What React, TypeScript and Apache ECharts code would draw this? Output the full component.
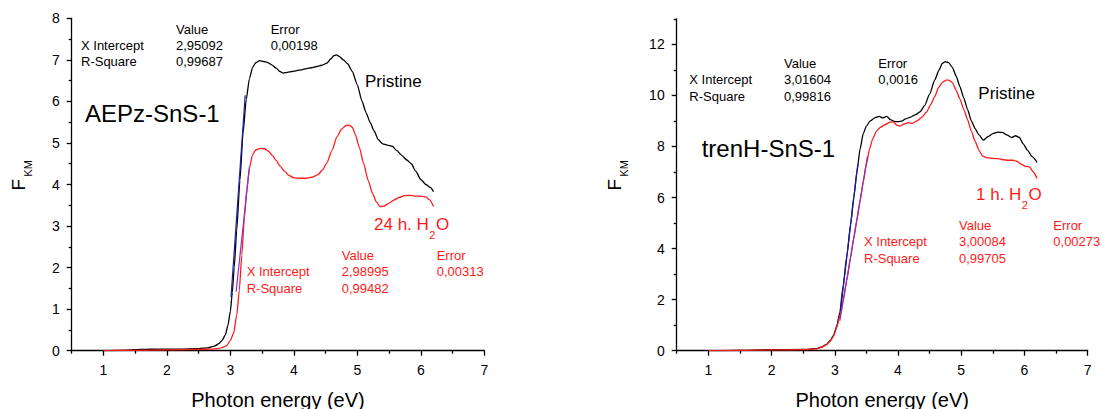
import React, { useEffect, useRef } from "react";
import * as echarts from "echarts";

const FONT = "'Liberation Sans', Arial, Helvetica, sans-serif";
const RED = "#ff1a1a";
const BLUE = "#1c1ca8";
const PURPLE = "#8a2fc0";

// ---------- Left panel: AEPz-SnS-1 ----------
const aepzPristineE = [1.0, 1.3, 1.6, 1.9, 2.2, 2.5, 2.65, 2.75, 2.82, 2.87, 2.92, 2.96, 3.0, 3.03, 3.06, 3.1, 3.15, 3.2, 3.25, 3.3, 3.35, 3.4, 3.46, 3.52, 3.58, 3.65, 3.72, 3.78, 3.83, 3.9, 3.97, 4.05, 4.12, 4.2, 4.28, 4.36, 4.44, 4.52, 4.58, 4.63, 4.67, 4.72, 4.78, 4.85, 4.92, 5.0, 5.07, 5.14, 5.2, 5.26, 5.33, 5.4, 5.47, 5.55, 5.62, 5.7, 5.78, 5.85, 5.92, 6.0, 6.08, 6.15, 6.2];
const aepzPristineF = [0.0, 0.01, 0.03, 0.04, 0.04, 0.05, 0.07, 0.11, 0.17, 0.25, 0.38, 0.6, 0.95, 1.4, 2.0, 2.9, 4.1, 5.25, 6.05, 6.55, 6.82, 6.93, 6.98, 6.96, 6.94, 6.88, 6.8, 6.72, 6.68, 6.7, 6.72, 6.74, 6.76, 6.79, 6.81, 6.84, 6.87, 6.92, 7.02, 7.1, 7.12, 7.08, 7.0, 6.9, 6.72, 6.4, 6.02, 5.72, 5.5, 5.3, 5.08, 4.98, 4.95, 4.92, 4.82, 4.7, 4.59, 4.5, 4.32, 4.12, 4.0, 3.93, 3.83];
const aepzWaterE = [1.0, 1.5, 2.0, 2.5, 2.7, 2.8, 2.88, 2.94, 3.0, 3.05, 3.1, 3.14, 3.18, 3.22, 3.26, 3.3, 3.35, 3.4, 3.47, 3.54, 3.6, 3.66, 3.72, 3.78, 3.85, 3.92, 4.0, 4.1, 4.2, 4.3, 4.38, 4.45, 4.52, 4.6, 4.68, 4.75, 4.82, 4.87, 4.92, 4.97, 5.03, 5.1, 5.17, 5.24, 5.3, 5.36, 5.42, 5.5, 5.58, 5.66, 5.74, 5.82, 5.9, 6.0, 6.08, 6.14, 6.2];
const aepzWaterF = [0.0, 0.01, 0.02, 0.03, 0.04, 0.05, 0.08, 0.12, 0.25, 0.42, 0.85, 1.45, 2.3, 3.2, 3.9, 4.4, 4.72, 4.83, 4.87, 4.86, 4.8, 4.7, 4.58, 4.45, 4.33, 4.22, 4.16, 4.15, 4.15, 4.18, 4.24, 4.35, 4.52, 4.82, 5.15, 5.33, 5.42, 5.43, 5.38, 5.2, 4.9, 4.5, 4.1, 3.78, 3.58, 3.47, 3.48, 3.55, 3.63, 3.69, 3.73, 3.74, 3.72, 3.72, 3.7, 3.63, 3.47];
const aepzFitPristineE = [3.01, 3.233];
const aepzFitPristineF = [1.29, 6.15];
const aepzFitWaterE = [3.09, 3.301];
const aepzFitWaterF = [1.42, 4.43];

// ---------- Right panel: trenH-SnS-1 ----------
const trenPristineE = [1.0, 1.5, 2.0, 2.5, 2.7, 2.8, 2.87, 2.93, 2.98, 3.03, 3.08, 3.13, 3.19, 3.25, 3.3, 3.35, 3.4, 3.45, 3.5, 3.56, 3.63, 3.7, 3.76, 3.82, 3.88, 3.94, 4.0, 4.06, 4.12, 4.2, 4.28, 4.35, 4.42, 4.5, 4.58, 4.65, 4.7, 4.75, 4.8, 4.86, 4.92, 4.98, 5.04, 5.1, 5.16, 5.22, 5.28, 5.35, 5.42, 5.5, 5.58, 5.65, 5.72, 5.8, 5.86, 5.92, 5.98, 6.05, 6.12, 6.2];
const trenPristineF = [0.0, 0.01, 0.04, 0.05, 0.08, 0.15, 0.25, 0.4, 0.6, 0.95, 1.5, 2.5, 3.7, 4.95, 6.0, 7.0, 7.9, 8.5, 8.8, 9.0, 9.12, 9.18, 9.12, 9.18, 9.05, 8.98, 8.97, 8.99, 9.08, 9.15, 9.25, 9.36, 9.6, 10.05, 10.6, 11.0, 11.25, 11.32, 11.28, 11.1, 10.75, 10.34, 9.9, 9.45, 9.0, 8.7, 8.45, 8.25, 8.38, 8.5, 8.56, 8.55, 8.45, 8.35, 8.42, 8.35, 8.1, 7.85, 7.6, 7.38];
const trenWaterE = [1.0, 1.5, 2.0, 2.5, 2.7, 2.8, 2.87, 2.93, 2.98, 3.03, 3.08, 3.13, 3.19, 3.25, 3.3, 3.35, 3.4, 3.45, 3.5, 3.55, 3.6, 3.66, 3.72, 3.8, 3.87, 3.93, 3.98, 4.03, 4.1, 4.16, 4.22, 4.3, 4.38, 4.45, 4.52, 4.58, 4.64, 4.7, 4.76, 4.8, 4.86, 4.92, 4.98, 5.04, 5.1, 5.16, 5.22, 5.28, 5.34, 5.42, 5.5, 5.58, 5.66, 5.74, 5.82, 5.88, 5.95, 6.02, 6.08, 6.14, 6.2];
const trenWaterF = [0.0, 0.01, 0.03, 0.04, 0.07, 0.14, 0.24, 0.38, 0.57, 0.9, 1.35, 1.95, 2.75, 3.65, 4.4, 5.1, 5.85, 6.6, 7.3, 7.9, 8.3, 8.6, 8.75, 8.86, 8.95, 8.95, 8.83, 8.8, 8.88, 8.93, 8.9, 9.0, 9.15, 9.35, 9.65, 9.95, 10.3, 10.5, 10.6, 10.6, 10.5, 10.2, 9.85, 9.45, 9.05, 8.6, 8.2, 7.85, 7.62, 7.55, 7.53, 7.52, 7.48, 7.46, 7.46, 7.42, 7.3, 7.22, 7.2, 7.0, 6.75];
const trenFitPristineE = [3.09, 3.364];
const trenFitPristineF = [1.55, 7.31];
const trenFitWaterE = [3.08, 3.516];
const trenFitWaterF = [1.17, 7.6];

// ---------- Axes ticks ----------
const xTicks = [1, 2, 3, 4, 5, 6, 7];
const xMinorTicks = [0.5, 1.5, 2.5, 3.5, 4.5, 5.5, 6.5];
const leftYTicks = [0, 1, 2, 3, 4, 5, 6, 7, 8];
const leftYMinorTicks = [0.5, 1.5, 2.5, 3.5, 4.5, 5.5, 6.5, 7.5];
const rightYTicks = [0, 2, 4, 6, 8, 10, 12];
const rightYMinorTicks = [1, 3, 5, 7, 9, 11, 13];

// ---------- Annotation texts ----------
const tableHeader = ["Value", "Error"];
const tableRows = ["X Intercept", "R-Square"];
const aepzPristineFit = ["2,95092", "0,99687", "0,00198"];
const aepzWaterFit = ["2,98995", "0,99482", "0,00313"];
const trenPristineFit = ["3,01604", "0,99816", "0,0016"];
const trenWaterFit = ["3,00084", "0,99705", "0,00273"];

const zip = (xs: number[], ys: number[]) => xs.map((x, i) => [x, ys[i]]);

function textWidth(text: string, size: number): number {
  const ctx = document.createElement("canvas").getContext("2d");
  if (!ctx) return text.length * size * 0.55;
  ctx.font = `${size}px 'Liberation Sans', Arial, sans-serif`;
  return ctx.measureText(text).width;
}

function T(x: number, y: number, text: string, size: number, color = "#000", rotation = 0, align = "left") {
  return {
    type: "text",
    x,
    y,
    rotation,
    silent: true,
    style: { text, fill: color, fontSize: size, fontFamily: FONT, align, verticalAlign: "middle" },
  };
}

function fitTable(x0: number, x1: number, x2: number, y0: number, dy: number, vals: string[], color: string) {
  return [
    T(x1, y0, tableHeader[0], 13, color),
    T(x2, y0, tableHeader[1], 13, color),
    T(x0, y0 + dy, tableRows[0], 13, color),
    T(x0, y0 + 2 * dy, tableRows[1], 13, color),
    T(x1, y0 + dy, vals[0], 13, color),
    T(x1, y0 + 2 * dy, vals[1], 13, color),
    T(x2, y0 + dy, vals[2], 13, color),
  ];
}

function waterLabel(x: number, y: number, pre: string, color: string) {
  const w1 = textWidth(pre, 17);
  const w2 = textWidth("2", 11);
  return [
    T(x, y, pre, 17, color),
    T(x + w1 + 0.5, y + 10.5, "2", 11, color),
    T(x + w1 + w2 + 1, y, "O", 17, color),
  ];
}

function fkm(xF: number, yF: number) {
  return [T(xF, yF, "F", 19, "#000", Math.PI / 2, "center"), T(xF + 9.5, yF - 16.3, "KM", 11, "#000", Math.PI / 2, "center")];
}

const axisLineStyle = { color: "#000", width: 1.3 };

function makeXAxes(gridIndex: number) {
  return [
    {
      type: "value",
      gridIndex,
      min: 0.5,
      max: 7,
      position: "bottom",
      name: "Photon energy (eV)",
      nameLocation: "middle",
      nameGap: 39,
      nameTextStyle: { fontSize: 20, fontFamily: FONT, color: "#000" },
      axisLine: { show: true, onZero: false, lineStyle: axisLineStyle },
      axisTick: { show: true, length: 5, customValues: xTicks, lineStyle: axisLineStyle },
      axisLabel: { show: true, customValues: xTicks, fontSize: 14, fontFamily: FONT, color: "#000", margin: 12 },
      splitLine: { show: false },
    },
    {
      type: "value",
      gridIndex,
      min: 0.5,
      max: 7,
      position: "bottom",
      axisLine: { show: false, onZero: false },
      axisTick: { show: true, length: 3, customValues: xMinorTicks, lineStyle: axisLineStyle },
      axisLabel: { show: false },
      splitLine: { show: false },
    },
  ];
}

function makeYAxes(gridIndex: number, max: number, ticks: number[], minor: number[]) {
  return [
    {
      type: "value",
      gridIndex,
      min: 0,
      max,
      position: "left",
      axisLine: { show: true, onZero: false, lineStyle: axisLineStyle },
      axisTick: { show: true, length: 5, customValues: ticks, lineStyle: axisLineStyle },
      axisLabel: { show: true, customValues: ticks, fontSize: 14, fontFamily: FONT, color: "#000", margin: 12 },
      splitLine: { show: false },
    },
    {
      type: "value",
      gridIndex,
      min: 0,
      max,
      position: "left",
      axisLine: { show: false, onZero: false },
      axisTick: { show: true, length: 3, customValues: minor, lineStyle: axisLineStyle },
      axisLabel: { show: false },
      splitLine: { show: false },
    },
  ];
}

function line(xIdx: number, yIdx: number, xs: number[], ys: number[], color: string, width = 1.3, smooth: number | boolean = 0.2) {
  return {
    type: "line",
    xAxisIndex: xIdx,
    yAxisIndex: yIdx,
    data: zip(xs, ys),
    symbol: "none",
    showSymbol: false,
    smooth,
    smoothMonotone: "x",
    lineStyle: { color, width },
    itemStyle: { color },
    silent: true,
  };
}

export default function App() {
  const ref = useRef<HTMLDivElement>(null);

  useEffect(() => {
    if (!ref.current) return;
    const chart = echarts.init(ref.current, null, { renderer: "svg" });

    const graphics = [
      // left panel texts
      ...fitTable(81, 176, 270.7, 29, 16.3, aepzPristineFit, "#000"),
      T(85, 113, "AEPz-SnS-1", 24),
      T(365, 81.7, "Pristine", 17),
      ...waterLabel(374, 224.7, "24 h. H", RED),
      ...fitTable(246.7, 341.7, 436.7, 255.7, 16.2, aepzWaterFit, RED),
      ...fkm(18.3, 184.7),
      // right panel texts
      ...fitTable(689.3, 784, 878.3, 63, 16.8, trenPristineFit, "#000"),
      T(701.7, 148.6, "trenH-SnS-1", 24),
      T(978.3, 93.5, "Pristine", 17),
      ...waterLabel(976, 194.2, "1 h. H", RED),
      ...fitTable(864, 959, 1053.3, 225.7, 16.2, trenWaterFit, RED),
      ...fkm(614, 184.7),
    ];

    chart.setOption({
      animation: false,
      backgroundColor: "#fff",
      grid: [
        { left: 71.7, top: 18.3, width: 412.6, height: 332.4, containLabel: false, outerBoundsMode: "none" },
        { left: 676.7, top: 18.8, width: 411, height: 331.9, containLabel: false, outerBoundsMode: "none" },
      ],
      xAxis: [...makeXAxes(0), ...makeXAxes(1)],
      yAxis: [...makeYAxes(0, 8, leftYTicks, leftYMinorTicks), ...makeYAxes(1, 13, rightYTicks, rightYMinorTicks)],
      series: [
        line(0, 0, aepzPristineE, aepzPristineF, "#000"),
        line(0, 0, aepzWaterE, aepzWaterF, RED),
        line(0, 0, aepzFitPristineE, aepzFitPristineF, BLUE, 1.2, false),
        line(0, 0, aepzFitWaterE, aepzFitWaterF, PURPLE, 1.2, false),
        line(2, 2, trenPristineE, trenPristineF, "#000"),
        line(2, 2, trenWaterE, trenWaterF, RED),
        line(2, 2, trenFitPristineE, trenFitPristineF, BLUE, 1.2, false),
        line(2, 2, trenFitWaterE, trenFitWaterF, PURPLE, 1.2, false),
      ],
      graphic: graphics,
    });

    return () => chart.dispose();
  }, []);

  return (
    <div
      ref={ref}
      style={{ position: "absolute", left: 0, top: 0, width: 1103, height: 409, background: "#fff" }}
    />
  );
}
